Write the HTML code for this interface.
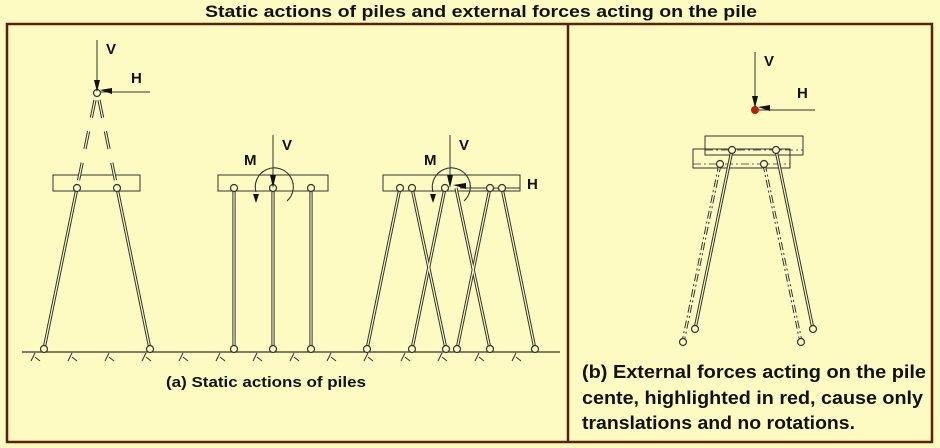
<!DOCTYPE html>
<html><head><meta charset="utf-8"><style>
html,body{margin:0;padding:0;background:#fefbc2;}
svg{display:block;font-family:"Liberation Sans",sans-serif;}
.t{font-family:"Liberation Sans",sans-serif;font-weight:bold;fill:#111;}
</style></head><body>
<svg width="940" height="448" viewBox="0 0 940 448" xmlns="http://www.w3.org/2000/svg">
<rect x="0" y="0" width="940" height="448" fill="#fefbc2"/>
<text x="205" y="17" class="t" font-size="17" textLength="552" lengthAdjust="spacingAndGlyphs">Static actions of piles and external forces acting on the pile</text>
<rect x="7" y="24" width="925" height="418" fill="none" stroke="#5a2208" stroke-width="2.5"/>
<line x1="568" y1="24" x2="568" y2="442" stroke="#5a2208" stroke-width="2.5"/>

<g stroke="#333" fill="none">
<line x1="22" y1="352" x2="560" y2="352" stroke-width="1.2"/>
<g stroke-width="1">
<path d="M35 353 l-4 8 M35 357 l5 4 M72 353 l-4 8 M72 357 l5 4 M109 353 l-4 8 M109 357 l5 4 M146 353 l-4 8 M146 357 l5 4 M183 353 l-4 8 M183 357 l5 4 M220 353 l-4 8 M220 357 l5 4 M257 353 l-4 8 M257 357 l5 4 M294 353 l-4 8 M294 357 l5 4 M331 353 l-4 8 M331 357 l5 4 M368 353 l-4 8 M368 357 l5 4 M405 353 l-4 8 M405 357 l5 4 M442 353 l-4 8 M442 357 l5 4 M479 353 l-4 8 M479 357 l5 4 M516 353 l-4 8 M516 357 l5 4"/>
</g>

<!-- group 1 -->
<rect x="53" y="175" width="87" height="16" stroke-width="1"/>
<g stroke-width="3.2"><line x1="77" y1="188" x2="44" y2="349"/><line x1="117" y1="188" x2="150" y2="349"/>
<line x1="95" y1="100" x2="77" y2="188" stroke-dasharray="18 14"/><line x1="99" y1="100" x2="117" y2="188" stroke-dasharray="18 14"/></g>
<g stroke="#fefbc2" stroke-width="1.2"><line x1="77" y1="188" x2="44" y2="349"/><line x1="117" y1="188" x2="150" y2="349"/>
<line x1="95" y1="100" x2="77" y2="188"/><line x1="99" y1="100" x2="117" y2="188"/></g>
<line x1="97" y1="40" x2="97" y2="90" stroke-width="1"/>
<line x1="100" y1="92" x2="150" y2="92" stroke-width="1"/>

<!-- group 2 -->
<rect x="218" y="175" width="110" height="16" stroke-width="1"/>
<g stroke-width="3.2"><line x1="234" y1="188" x2="234" y2="349"/><line x1="273" y1="188" x2="273" y2="349"/><line x1="311" y1="188" x2="311" y2="349"/></g>
<g stroke="#fefbc2" stroke-width="1.2"><line x1="234" y1="188" x2="234" y2="349"/><line x1="273" y1="188" x2="273" y2="349"/><line x1="311" y1="188" x2="311" y2="349"/></g>
<line x1="273" y1="135" x2="273" y2="180" stroke-width="1"/>
<path d="M256 192 A19 19 0 1 1 287 201" stroke-width="1.1"/>

<!-- group 3 -->
<rect x="383" y="175" width="137" height="16" stroke-width="1"/>
<g stroke-width="3.2"><line x1="400" y1="188" x2="367" y2="349"/><line x1="412" y1="188" x2="446" y2="349"/><line x1="445" y1="188" x2="412" y2="349"/><line x1="456" y1="188" x2="490" y2="349"/><line x1="490" y1="188" x2="457" y2="349"/><line x1="502" y1="188" x2="535" y2="349"/></g>
<g stroke="#fefbc2" stroke-width="1.2"><line x1="400" y1="188" x2="367" y2="349"/><line x1="412" y1="188" x2="446" y2="349"/><line x1="445" y1="188" x2="412" y2="349"/><line x1="456" y1="188" x2="490" y2="349"/><line x1="490" y1="188" x2="457" y2="349"/><line x1="502" y1="188" x2="535" y2="349"/></g>
<line x1="450" y1="135" x2="450" y2="180" stroke-width="1"/>
<path d="M433 192 A19 19 0 1 1 464 201" stroke-width="1.1"/>
<line x1="460" y1="188" x2="520" y2="188" stroke-width="1"/>

<!-- right -->
<rect x="705" y="136" width="98" height="19" stroke-width="1"/>
<rect x="693" y="149" width="97" height="19" stroke-width="1"/>
<line x1="705" y1="150" x2="803" y2="150" stroke-width="0.8" stroke-dasharray="8 3 2 3"/>
<line x1="693" y1="164" x2="790" y2="164" stroke-width="0.8" stroke-dasharray="8 3 2 3"/>
<g stroke-width="3.2"><line x1="732" y1="150" x2="695" y2="329"/><line x1="776" y1="150" x2="813" y2="329"/>
<line x1="720" y1="164" x2="683" y2="342" stroke-dasharray="8 3 2 3"/><line x1="764" y1="164" x2="801" y2="342" stroke-dasharray="8 3 2 3"/></g>
<g stroke="#fefbc2" stroke-width="1.2"><line x1="732" y1="150" x2="695" y2="329"/><line x1="776" y1="150" x2="813" y2="329"/><line x1="720" y1="164" x2="683" y2="342"/><line x1="764" y1="164" x2="801" y2="342"/></g>
<line x1="755" y1="52" x2="755" y2="106" stroke-width="1"/>
<line x1="758" y1="110" x2="815" y2="110" stroke-width="1"/>
</g>

<g fill="#fefbc2" stroke="#333" stroke-width="1.2">
<circle cx="97" cy="93" r="3.5"/>
<circle cx="77" cy="188" r="3.5"/><circle cx="117" cy="188" r="3.5"/><circle cx="44" cy="349" r="3.5"/><circle cx="150" cy="349" r="3.5"/>
<circle cx="234" cy="188" r="3.5"/><circle cx="273" cy="188" r="3.5"/><circle cx="311" cy="188" r="3.5"/><circle cx="234" cy="349" r="3.5"/><circle cx="273" cy="349" r="3.5"/><circle cx="311" cy="349" r="3.5"/>
<circle cx="400" cy="188" r="3.5"/><circle cx="412" cy="188" r="3.5"/><circle cx="445" cy="188" r="3.5"/><circle cx="490" cy="188" r="3.5"/><circle cx="502" cy="188" r="3.5"/>
<circle cx="367" cy="349" r="3.5"/><circle cx="412" cy="349" r="3.5"/><circle cx="446" cy="349" r="3.5"/><circle cx="457" cy="349" r="3.5"/><circle cx="490" cy="349" r="3.5"/><circle cx="535" cy="349" r="3.5"/>
<circle cx="732" cy="150" r="3.5"/><circle cx="776" cy="150" r="3.5"/><circle cx="720" cy="164" r="3.5"/><circle cx="764" cy="164" r="3.5"/>
<circle cx="695" cy="329" r="3.5"/><circle cx="813" cy="329" r="3.5"/><circle cx="683" cy="342" r="3.5"/><circle cx="801" cy="342" r="3.5"/>
</g>
<circle cx="755" cy="110" r="4" fill="#b8220c"/>

<g fill="#111">
<path d="M94 80 L100 80 L97 92 Z"/><path d="M100 90 L112 88 L112 94 Z"/>
<path d="M270 175 L276 175 L273 188 Z"/><path d="M253 194 L259 194 L256 203 Z"/>
<path d="M447 175 L453 175 L450 188 Z"/><path d="M430 194 L436 194 L433 203 Z"/><path d="M453 185 L466 183 L466 189 Z"/>
<path d="M752 96 L758 96 L755 108 Z"/><path d="M758 107 L770 105 L770 111 Z"/>
</g>

<g class="t" font-size="15">
<text x="106" y="54">V</text><text x="131" y="83">H</text>
<text x="282" y="150">V</text><text x="244" y="165">M</text>
<text x="459" y="150">V</text><text x="424" y="165">M</text><text x="527" y="189">H</text>
<text x="764" y="66">V</text><text x="797" y="98">H</text>
</g>
<text x="166" y="387" class="t" font-size="15" textLength="200" lengthAdjust="spacingAndGlyphs">(a) Static actions of piles</text>
<g class="t" font-size="18">
<text x="582" y="378" textLength="344" lengthAdjust="spacingAndGlyphs">(b) External forces acting on the pile</text>
<text x="582" y="404" textLength="341" lengthAdjust="spacingAndGlyphs">cente, highlighted in red, cause only</text>
<text x="582" y="429" textLength="273" lengthAdjust="spacingAndGlyphs">translations and no rotations.</text>
</g>
</svg>
</body></html>
